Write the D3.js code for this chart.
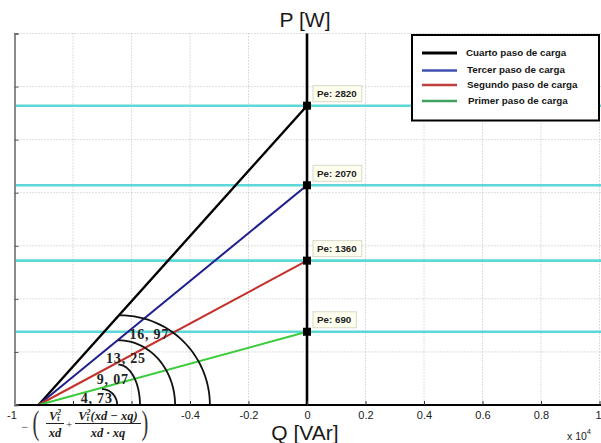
<!DOCTYPE html>
<html>
<head>
<meta charset="utf-8">
<script src="https://cdn.jsdelivr.net/npm/d3@7"></script>
<style>
  html, body { margin: 0; padding: 0; background: #fff; }
  svg { display: block; }
</style>
</head>
<body>
<svg id="chart" width="601" height="443"></svg>
<script>
// ---------------- DATA ----------------
const seriesNames = ["Cuarto paso de carga", "Tercer paso de carga", "Segundo paso de carga", "Primer paso de carga"];
const peValues = [2820, 2070, 1360, 690];           // P at Q = 0 [W]
const originQ = -9180;                               // common start point on Q axis [VAr]
const xTicks = [-10000, -8000, -6000, -4000, -2000, 0, 2000, 4000, 6000, 8000, 10000];
const xTickLabels = ["-1", "", "", "-0.4", "-0.2", "0", "0.2", "0.4", "0.6", "0.8", "1"];
const yTicks = [0, 500, 1000, 1500, 2000, 2500, 3000, 3500];
const angleLabels = ["16, 97", "13, 25", "9, 07", "4, 73"];
const arcStartQ = [-6390, -6450, -6450, -7010];
const arcTopP   = [845, 610, 380, 150];
const arcEndQ   = [-3320, -4510, -5710, -6490];
const angleLabelQ = [-5390, -6190, -6640, -7190];
const angleLabelP = [660, 440, 236, 63];

// ---------------- STYLE ----------------
const lineColors   = ["#000000", "#1e1e8c", "#c4302a", "#3acc3a"];
const legendColors = ["#000000", "#4050b0", "#c04040", "#40a060"];
const cyan = "#5dd8d8";

const svg = d3.select("#chart");
const x = d3.scaleLinear().domain([-10000, 10000]).range([14.5, 599.5]);
const y = d3.scaleLinear().domain([0, 3500]).range([405, 33.5]);

// grid
const grid = svg.append("g");
grid.selectAll(".vg").data(xTicks).join("line")
  .attr("x1", d => x(d)).attr("x2", d => x(d))
  .attr("y1", y(3500)).attr("y2", y(0))
  .attr("stroke", "#bdbdbd").attr("stroke-width", 1).attr("stroke-dasharray", "1,2");
grid.selectAll(".hg").data(yTicks).join("line")
  .attr("x1", x(-10000)).attr("x2", 601)
  .attr("y1", d => y(d)).attr("y2", d => y(d))
  .attr("stroke", "#bdbdbd").attr("stroke-width", 1).attr("stroke-dasharray", "1,2");

// cyan horizontal lines
svg.append("g").selectAll("line").data(peValues).join("line")
  .attr("x1", x(-10000)).attr("x2", 601)
  .attr("y1", d => y(d)).attr("y2", d => y(d))
  .attr("stroke", cyan).attr("stroke-width", 2.6);

// data lines
const lineGen = d3.line().x(d => x(d[0])).y(d => y(d[1]));
svg.append("g").selectAll("path").data(peValues).join("path")
  .attr("d", d => lineGen([[originQ, 0], [0, d]]))
  .attr("fill", "none")
  .attr("stroke", (d, i) => lineColors[i])
  .attr("stroke-width", (d, i) => i === 0 ? 2.4 : 2);

// vertical black line at Q = 0
svg.append("line")
  .attr("x1", x(0)).attr("x2", x(0)).attr("y1", y(3500)).attr("y2", y(0))
  .attr("stroke", "#000").attr("stroke-width", 2.6);

// angle arcs (quarter ellipses)
const arcG = svg.append("g");
arcStartQ.forEach((q0, i) => {
  const cx = x(q0), cy = y(0);
  const rx = x(arcEndQ[i]) - cx, ry = cy - y(arcTopP[i]);
  const pts = d3.range(0, 91, 3).map(a => {
    const t = a * Math.PI / 180;
    return [cx + rx * Math.sin(t), cy - ry * Math.cos(t)];
  });
  arcG.append("path").attr("d", d3.line()(pts))
    .attr("fill", "none").attr("stroke", "#111").attr("stroke-width", 1.8);
});
arcG.selectAll("text").data(angleLabels).join("text")
  .attr("x", (d, i) => x(angleLabelQ[i]))
  .attr("y", (d, i) => y(angleLabelP[i]))
  .attr("text-anchor", "middle").attr("dominant-baseline", "central")
  .attr("font-family", "Liberation Serif, serif").attr("font-weight", "bold")
  .attr("font-size", 14).attr("letter-spacing", 0.8).attr("fill", "#222")
  .text(d => d);

// markers
svg.append("g").selectAll("rect").data(peValues).join("rect")
  .attr("x", x(0) - 4).attr("y", d => y(d) - 4)
  .attr("width", 8).attr("height", 8).attr("fill", "#000");

// data tips
const tipG = svg.append("g");
peValues.forEach(v => {
  const g = tipG.append("g");
  const t = g.append("text")
    .attr("x", x(0) + 10).attr("y", y(v) - 8.5)
    .attr("font-family", "Liberation Sans, Arial, sans-serif").attr("font-weight", "bold")
    .attr("font-size", 9.8).attr("fill", "#222")
    .text("Pe: " + v);
  const w = t.node().getComputedTextLength();
  g.insert("rect", "text")
    .attr("x", x(0) + 6).attr("y", y(v) - 20)
    .attr("width", w + 9).attr("height", 16)
    .attr("fill", "#fffff0").attr("stroke", "#d8d8c8").attr("stroke-width", 1);
});

// legend
const lg = svg.append("g");
lg.append("rect").attr("x", 412).attr("y", 35).attr("width", 187).attr("height", 85.5)
  .attr("fill", "#fff").attr("stroke", "#000").attr("stroke-width", 2);
const legendRowY = [53, 70.5, 85, 101];
const legendTextX = [466, 467, 467, 468];
seriesNames.forEach((name, i) => {
  lg.append("line").attr("x1", 422).attr("x2", 457)
    .attr("y1", legendRowY[i]).attr("y2", legendRowY[i])
    .attr("stroke", legendColors[i]).attr("stroke-width", i === 0 ? 3 : 2.5);
  lg.append("text").attr("x", legendTextX[i]).attr("y", legendRowY[i] - 1)
    .attr("dominant-baseline", "central")
    .attr("font-family", "Liberation Sans, Arial, sans-serif").attr("font-weight", "bold")
    .attr("font-size", 9.8).attr("fill", "#151515").text(name);
});

// axes
const xAxis = d3.axisBottom(x).tickValues(xTicks).tickSize(-4).tickPadding(6)
  .tickFormat((d, i) => xTickLabels[i]);
const xa = svg.append("g").attr("transform", `translate(0,${y(0)})`).call(xAxis);
xa.select(".domain").attr("stroke", "#000").attr("stroke-width", 2);
xa.selectAll(".tick line").attr("stroke", "#333");
xa.selectAll(".tick text").attr("font-family", "Liberation Sans, Arial, sans-serif")
  .attr("font-size", 11).attr("fill", "#222");
xa.selectAll(".tick text").filter(d => d === -10000).attr("dx", -3);
xa.selectAll(".tick text").filter(d => d === 10000).attr("text-anchor", "end").attr("dx", 1.5);
xa.selectAll(".tick").filter((d, i) => xTickLabels[i] === "").select("text").remove();
xa.select(".domain").attr("d", `M${x(-10000)},0H601`);

const yAxis = d3.axisLeft(y).tickValues(yTicks).tickSize(-4).tickFormat("");
const ya = svg.append("g").attr("transform", `translate(${x(-10000)},0)`).call(yAxis);
ya.select(".domain").attr("stroke", "#8a8a8a").attr("stroke-width", 2);
ya.selectAll(".tick line").attr("stroke", "#555");
ya.selectAll(".tick text").remove();

// axis titles
svg.append("text").attr("x", 305).attr("y", 27).attr("text-anchor", "middle")
  .attr("font-family", "Liberation Sans, Arial, sans-serif").attr("font-size", 21).attr("fill", "#1a1a1a")
  .text("P [W]");
svg.append("text").attr("x", 305).attr("y", 440).attr("text-anchor", "middle")
  .attr("font-family", "Liberation Sans, Arial, sans-serif").attr("font-size", 21).attr("fill", "#1a1a1a")
  .text("Q [VAr]");
const ex = svg.append("text").attr("x", 567).attr("y", 440)
  .attr("font-family", "Liberation Sans, Arial, sans-serif").attr("font-size", 10.5).attr("fill", "#222");
ex.append("tspan").text("x 10");
ex.append("tspan").attr("dy", -6).attr("font-size", 7.5).text("4");

// formula below the Q axis
const fg = svg.append("g");
const serif = "Liberation Serif, Times New Roman, serif";
fg.append("text").attr("x", 25).attr("y", 431).attr("text-anchor", "middle")
  .attr("font-family", serif).attr("font-size", 12).attr("fill", "#333").text("\u2212");
fg.append("text").attr("transform", "translate(36,434) scale(0.85,1.4)").attr("text-anchor", "middle")
  .attr("font-family", serif).attr("font-size", 24).attr("fill", "#333").text("(");
fg.append("text").attr("transform", "translate(145,434) scale(0.85,1.4)").attr("text-anchor", "middle")
  .attr("font-family", serif).attr("font-size", 24).attr("fill", "#333").text(")");
function vt(t) {
  t.append("tspan").text("V");
  t.append("tspan").attr("font-size", 7.5).attr("dy", 1.5).text("t");
  t.append("tspan").attr("font-size", 7.5).attr("dy", -6.5).attr("dx", -2).text("2");
}
const num1 = fg.append("text").attr("x", 55).attr("y", 419.5).attr("text-anchor", "middle")
  .attr("font-family", serif).attr("font-weight", "bold").attr("font-style", "italic")
  .attr("font-size", 12.5).attr("fill", "#222");
vt(num1);
fg.append("line").attr("x1", 46).attr("x2", 64).attr("y1", 423.5).attr("y2", 423.5)
  .attr("stroke", "#222").attr("stroke-width", 1);
fg.append("text").attr("x", 55).attr("y", 437).attr("text-anchor", "middle")
  .attr("font-family", serif).attr("font-weight", "bold").attr("font-style", "italic")
  .attr("font-size", 12.5).attr("fill", "#222").text("xd");
fg.append("text").attr("x", 69).attr("y", 428).attr("text-anchor", "middle")
  .attr("font-family", serif).attr("font-size", 11).attr("fill", "#333").text("+");
const num2 = fg.append("text").attr("x", 108).attr("y", 419.5).attr("text-anchor", "middle")
  .attr("font-family", serif).attr("font-weight", "bold").attr("font-style", "italic")
  .attr("font-size", 12.5).attr("fill", "#222");
vt(num2);
num2.append("tspan").attr("dy", 5).attr("font-size", 12.5).text("(xd \u2212 xq)");
fg.append("line").attr("x1", 75).attr("x2", 141).attr("y1", 423.5).attr("y2", 423.5)
  .attr("stroke", "#222").attr("stroke-width", 1);
fg.append("text").attr("x", 108).attr("y", 437).attr("text-anchor", "middle")
  .attr("font-family", serif).attr("font-weight", "bold").attr("font-style", "italic")
  .attr("font-size", 12.5).attr("fill", "#222").text("xd \u00b7 xq");
</script>
</body>
</html>
